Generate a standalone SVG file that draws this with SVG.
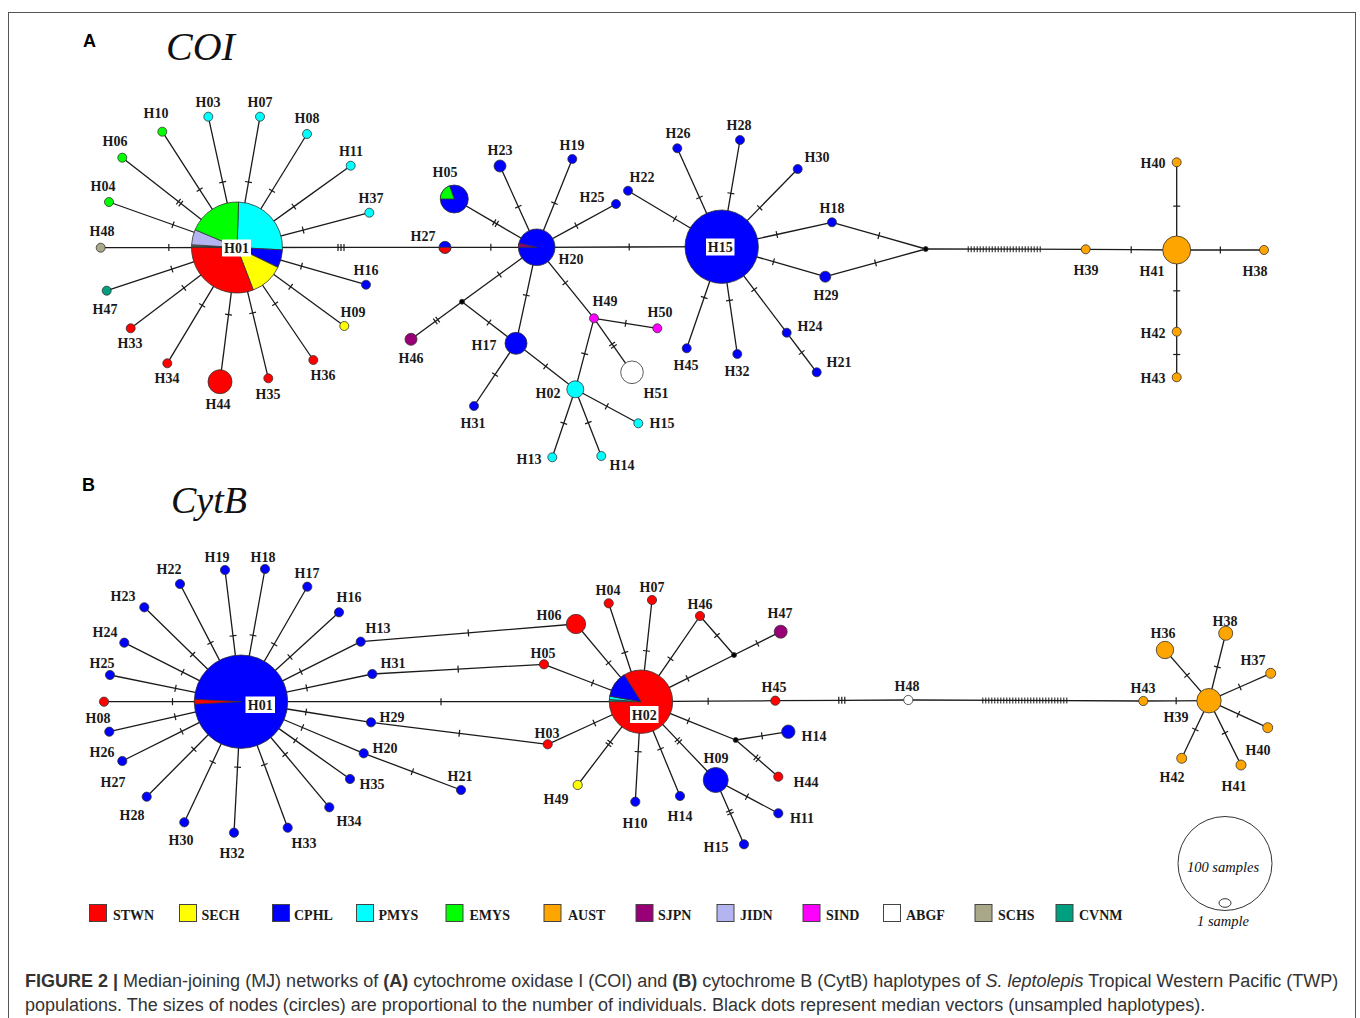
<svg xmlns="http://www.w3.org/2000/svg" width="1360" height="1018" viewBox="0 0 1360 1018">
<style>
.e{fill:none;stroke:#1a1a1a;stroke-width:1.3}
.e1{marker-mid:url(#t1)}
.e2{marker-mid:url(#t2)}
.e3{marker-mid:url(#t3)}
.run{fill:none;stroke:#1a1a1a;stroke-width:6;stroke-dasharray:1 2}
.n circle,.n path,.n ellipse{stroke:#333;stroke-width:0.8}
.l{font-family:"Liberation Serif","Times New Roman",serif;font-weight:bold;font-size:14px;fill:#1a1a1a;text-anchor:middle}
.lg{font-family:"Liberation Serif","Times New Roman",serif;font-weight:bold;font-size:14px;fill:#1a1a1a}
.sq{stroke:#444;stroke-width:1}
.box{fill:#fff;stroke:none}
.R{fill:#ff0000}.Y{fill:#ffff00}.B{fill:#0000ff}.C{fill:#00ffff}.G{fill:#00ff00}.O{fill:#ffa500}
.P{fill:#990077}.J{fill:#b4b4f0}.M{fill:#ff00ff}.W{fill:#ffffff}.T{fill:#a9a98a}.V{fill:#009f80}.K{fill:#000}
.it{font-family:"Liberation Serif","Times New Roman",serif;font-style:italic;fill:#111}
.cap{font-family:"Liberation Sans",Arial,sans-serif;font-size:18px;fill:#333}
</style>
<defs>
<marker id="t1" viewBox="0 0 10 10" markerWidth="10" markerHeight="10" refX="5" refY="5" orient="auto" markerUnits="userSpaceOnUse"><path d="M5 1.5V8.5" stroke="#1a1a1a" stroke-width="1.2"/></marker>
<marker id="t2" viewBox="0 0 10 10" markerWidth="10" markerHeight="10" refX="5" refY="5" orient="auto" markerUnits="userSpaceOnUse"><path d="M3.5 1.5V8.5M6.5 1.5V8.5" stroke="#1a1a1a" stroke-width="1.2"/></marker>
<marker id="t3" viewBox="0 0 10 10" markerWidth="10" markerHeight="10" refX="5" refY="5" orient="auto" markerUnits="userSpaceOnUse"><path d="M2 1.5V8.5M5 1.5V8.5M8 1.5V8.5" stroke="#1a1a1a" stroke-width="1.2"/></marker>
</defs>
<rect x="0" y="0" width="1360" height="1018" fill="#fff"/>
<rect x="8.5" y="12.5" width="1347" height="1030" fill="none" stroke="#555" stroke-width="1"/>

<text x="83" y="47" font-family="Liberation Sans,Arial,sans-serif" font-weight="bold" font-size="18" fill="#000">A</text>
<text class="it" x="166" y="60" font-size="40">COI</text>
<text x="82" y="491" font-family="Liberation Sans,Arial,sans-serif" font-weight="bold" font-size="18" fill="#000">B</text>
<text class="it" x="171" y="513" font-size="38">CytB</text>

<g id="edges">
<path class="e e1" d="M237 247.5L222.65 182.1L208.3 116.7"/>
<path class="e e1" d="M237 247.5L248.5 182.1L260 116.7"/>
<path class="e e1" d="M237 247.5L272 190.75L307 134"/>
<path class="e e1" d="M237 247.5L293.85 206.6L350.7 165.7"/>
<path class="e e1" d="M237 247.5L303.15 230.1L369.3 212.7"/>
<path class="e e1" d="M237 247.5L301.5 266.1L366 284.7"/>
<path class="e e1" d="M237 247.5L290.65 286.75L344.3 326"/>
<path class="e e1" d="M237 247.5L275.15 303.75L313.3 360"/>
<path class="e e1" d="M237 247.5L252.65 312.9L268.3 378.3"/>
<path class="e e1" d="M237 247.5L228.5 314.6L220 381.7"/>
<path class="e e1" d="M237 247.5L202.15 305.4L167.3 363.3"/>
<path class="e e1" d="M237 247.5L183.85 287.9L130.7 328.3"/>
<path class="e e1" d="M237 247.5L171.85 269.1L106.7 290.7"/>
<path class="e e1" d="M237 247.5L168.85 247.6L100.7 247.7"/>
<path class="e e1" d="M237 247.5L173 224.75L109 202"/>
<path class="e e2" d="M237 247.5L179.65 202.6L122.3 157.7"/>
<path class="e e1" d="M237 247.5L199.65 189.6L162.3 131.7"/>
<path class="e e3" d="M237 247.5L341 247.4L445 247.3"/>
<path class="e e1" d="M445 247.3L490.85 247.3L536.7 247.3"/>
<path class="e e2" d="M536.7 247.3L495.5 223.15L454.3 199"/>
<path class="e e1" d="M536.7 247.3L518.35 206.65L500 166"/>
<path class="e e1" d="M536.7 247.3L554.5 203.15L572.3 159"/>
<path class="e e1" d="M536.7 247.3L576.35 225.65L616 204"/>
<path class="e e1" d="M536.7 247.3L629.2 247L721.7 246.7"/>
<path class="e e1" d="M536.7 247.3L499.35 274.5L462 301.7"/>
<path class="e e2" d="M462 301.7L436.5 320.5L411 339.3"/>
<path class="e e1" d="M462 301.7L489 322.5L516 343.3"/>
<path class="e e1" d="M536.7 247.3L526.35 295.3L516 343.3"/>
<path class="e e1" d="M516 343.3L495 374.65L474 406"/>
<path class="e e1" d="M516 343.3L545.65 366.3L575.3 389.3"/>
<path class="e e1" d="M536.7 247.3L565.35 282.8L594 318.3"/>
<path class="e e1" d="M594 318.3L625.65 323.3L657.3 328.3"/>
<path class="e e2" d="M594 318.3L613 345.3L632 372.3"/>
<path class="e e1" d="M594 318.3L584.65 353.8L575.3 389.3"/>
<path class="e e1" d="M575.3 389.3L606.8 406.3L638.3 423.3"/>
<path class="e e1" d="M575.3 389.3L563.8 423.3L552.3 457.3"/>
<path class="e e1" d="M575.3 389.3L588.3 422.65L601.3 456"/>
<path class="e e1" d="M628 190.7L674.85 218.7L721.7 246.7"/>
<path class="e e1" d="M721.7 246.7L699.5 197.5L677.3 148.3"/>
<path class="e e1" d="M721.7 246.7L730.85 193.35L740 140"/>
<path class="e e1" d="M721.7 246.7L759.7 207.85L797.7 169"/>
<path class="e e1" d="M721.7 246.7L776.85 234.5L832 222.3"/>
<path class="e e1" d="M832 222.3L878.85 235.65L925.7 249"/>
<path class="e e1" d="M721.7 246.7L773.5 261.7L825.3 276.7"/>
<path class="e e1" d="M825.3 276.7L875.5 262.85L925.7 249"/>
<path class="e e1" d="M721.7 246.7L704.2 297.5L686.7 348.3"/>
<path class="e e1" d="M721.7 246.7L729.5 300.35L737.3 354"/>
<path class="e e1" d="M721.7 246.7L754.2 289.7L786.7 332.7"/>
<path class="e e1" d="M786.7 332.7L801.7 352.5L816.7 372.3"/>
<path class="e" d="M925.7 249L1085.7 249.3"/>
<path class="run" d="M967.7 249.15H1042.7"/>
<path class="e e1" d="M1085.7 249.3L1131.2 249.65L1176.7 250"/>
<path class="e e1" d="M1176.7 250L1220.35 250L1264 250"/>
<path class="e e1" d="M1176.7 250L1176.7 206.15L1176.7 162.3"/>
<path class="e e1" d="M1176.7 250L1176.7 290.85L1176.7 331.7"/>
<path class="e e1" d="M1176.7 331.7L1176.7 354.5L1176.7 377.3"/>
<path class="e e1" d="M241 701.7L233 635.85L225 570"/>
<path class="e e1" d="M241 701.7L253 635.35L265 569"/>
<path class="e e1" d="M241 701.7L274.15 644.2L307.3 586.7"/>
<path class="e e1" d="M241 701.7L290 657L339 612.3"/>
<path class="e e1" d="M241 701.7L300.85 671.7L360.7 641.7"/>
<path class="e e1" d="M241 701.7L306.65 687.85L372.3 674"/>
<path class="e e1" d="M241 701.7L306 712L371 722.3"/>
<path class="e e1" d="M241 701.7L302.35 727.5L363.7 753.3"/>
<path class="e e1" d="M241 701.7L295.5 740.35L350 779"/>
<path class="e e1" d="M241 701.7L285.15 754.5L329.3 807.3"/>
<path class="e e1" d="M241 701.7L264.35 764.7L287.7 827.7"/>
<path class="e e1" d="M241 701.7L237.5 767.2L234 832.7"/>
<path class="e e1" d="M241 701.7L212.65 762L184.3 822.3"/>
<path class="e e1" d="M241 701.7L193.85 749.2L146.7 796.7"/>
<path class="e e1" d="M241 701.7L181.65 731.35L122.3 761"/>
<path class="e e1" d="M241 701.7L175.15 716.7L109.3 731.7"/>
<path class="e e1" d="M241 701.7L172.5 701.7L104 701.7"/>
<path class="e e1" d="M241 701.7L175.5 688.35L110 675"/>
<path class="e e1" d="M241 701.7L182.65 672.2L124.3 642.7"/>
<path class="e e1" d="M241 701.7L192.65 654.5L144.3 607.3"/>
<path class="e e1" d="M241 701.7L210.5 642.85L180 584"/>
<path class="e e1" d="M363.7 753.3L412.35 771.65L461 790"/>
<path class="e e1" d="M360.7 641.7L468.35 632.85L576 624"/>
<path class="e e1" d="M372.3 674L458.15 669.15L544 664.3"/>
<path class="e e1" d="M241 701.7L441 701.7L641 701.7"/>
<path class="e e1" d="M371 722.3L459.35 733.3L547.7 744.3"/>
<path class="e e1" d="M641 701.7L608.5 662.85L576 624"/>
<path class="e e1" d="M641 701.7L624.85 652.5L608.7 603.3"/>
<path class="e e1" d="M641 701.7L646.5 650.85L652 600"/>
<path class="e e1" d="M641 701.7L670.5 658.85L700 616"/>
<path class="e e1" d="M641 701.7L687.5 678.35L734 655"/>
<path class="e e1" d="M734 655L717 635.5L700 616"/>
<path class="e e1" d="M734 655L757.35 643.35L780.7 631.7"/>
<path class="e e1" d="M641 701.7L592.5 683L544 664.3"/>
<path class="e e1" d="M641 701.7L708.15 701.2L775.3 700.7"/>
<path class="e e3" d="M775.3 700.7L841.8 700.35L908.3 700"/>
<path class="e" d="M908.3 700L1143.3 701"/>
<path class="run" d="M982.3 700.5H1067.3"/>
<path class="e e1" d="M641 701.7L594.35 723L547.7 744.3"/>
<path class="e e2" d="M641 701.7L609.35 743.35L577.7 785"/>
<path class="e e1" d="M641 701.7L638.15 751.7L635.3 801.7"/>
<path class="e e1" d="M641 701.7L660.5 748.85L680 796"/>
<path class="e e2" d="M641 701.7L678.35 740.85L715.7 780"/>
<path class="e e1" d="M715.7 780L747 796.65L778.3 813.3"/>
<path class="e e2" d="M715.7 780L729.85 812.15L744 844.3"/>
<path class="e e1" d="M641 701.7L688.35 720.85L735.7 740"/>
<path class="e e1" d="M735.7 740L762 735.85L788.3 731.7"/>
<path class="e e2" d="M735.7 740L757 758.35L778.3 776.7"/>
<path class="e e1" d="M1143.3 701L1176.15 700.85L1209 700.7"/>
<path class="e e1" d="M1209 700.7L1187 675.35L1165 650"/>
<path class="e e1" d="M1209 700.7L1217.35 667L1225.7 633.3"/>
<path class="e e1" d="M1209 700.7L1239.85 687L1270.7 673.3"/>
<path class="e e1" d="M1209 700.7L1238.35 714.2L1267.7 727.7"/>
<path class="e e1" d="M1209 700.7L1225 732.85L1241 765"/>
<path class="e e1" d="M1209 700.7L1195.35 729.5L1181.7 758.3"/>
</g>

<g id="coi-H01" class="n">
<path class="C" d="M237 247.5L238.59 202.03A45.5 45.5 0 0 1 282.44 249.88Z"/>
<path class="B" d="M237 247.5L282.44 249.88A45.5 45.5 0 0 1 277.9 267.45Z"/>
<path class="Y" d="M237 247.5L277.9 267.45A45.5 45.5 0 0 1 253.31 289.98Z"/>
<path class="R" d="M237 247.5L253.31 289.98A45.5 45.5 0 0 1 191.5 247.1Z"/>
<path class="V" d="M237 247.5L191.5 247.1A45.5 45.5 0 0 1 191.53 245.91Z"/>
<path class="T" d="M237 247.5L191.53 245.91A45.5 45.5 0 0 1 191.58 244.72Z"/>
<path class="J" d="M237 247.5L191.58 244.72A45.5 45.5 0 0 1 195.12 229.72Z"/>
<path class="G" d="M237 247.5L195.12 229.72A45.5 45.5 0 0 1 238.59 202.03Z"/>
<rect class="box" x="222" y="239.5" width="29" height="17"/>
<text class="l" x="236.5" y="253">H01</text>
</g>
<g id="coi-H03" class="n"><circle class="C" cx="208.3" cy="116.7" r="4.5"/><text class="l" x="208" y="107">H03</text></g>
<g id="coi-H07" class="n"><circle class="C" cx="260" cy="116.7" r="4.5"/><text class="l" x="260" y="107">H07</text></g>
<g id="coi-H08" class="n"><circle class="C" cx="307" cy="134" r="4.5"/><text class="l" x="307" y="123">H08</text></g>
<g id="coi-H11" class="n"><circle class="C" cx="350.7" cy="165.7" r="4.5"/><text class="l" x="351" y="156">H11</text></g>
<g id="coi-H37" class="n"><circle class="C" cx="369.3" cy="212.7" r="4.5"/><text class="l" x="371" y="203">H37</text></g>
<g id="coi-H16" class="n"><circle class="B" cx="366" cy="284.7" r="4.5"/><text class="l" x="366" y="275">H16</text></g>
<g id="coi-H09" class="n"><circle class="Y" cx="344.3" cy="326" r="4.5"/><text class="l" x="353" y="317">H09</text></g>
<g id="coi-H36" class="n"><circle class="R" cx="313.3" cy="360" r="4.5"/><text class="l" x="323" y="380">H36</text></g>
<g id="coi-H35" class="n"><circle class="R" cx="268.3" cy="378.3" r="4.5"/><text class="l" x="268" y="399">H35</text></g>
<g id="coi-H44" class="n"><circle class="R" cx="220" cy="381.7" r="12"/><text class="l" x="218" y="409">H44</text></g>
<g id="coi-H34" class="n"><circle class="R" cx="167.3" cy="363.3" r="4.5"/><text class="l" x="167" y="383">H34</text></g>
<g id="coi-H33" class="n"><circle class="R" cx="130.7" cy="328.3" r="4.5"/><text class="l" x="130" y="348">H33</text></g>
<g id="coi-H47" class="n"><circle class="V" cx="106.7" cy="290.7" r="4.5"/><text class="l" x="105" y="314">H47</text></g>
<g id="coi-H48" class="n"><circle class="T" cx="100.7" cy="247.7" r="4.5"/><text class="l" x="102" y="236">H48</text></g>
<g id="coi-H04" class="n"><circle class="G" cx="109" cy="202" r="4.5"/><text class="l" x="103" y="191">H04</text></g>
<g id="coi-H06" class="n"><circle class="G" cx="122.3" cy="157.7" r="4.5"/><text class="l" x="115" y="146">H06</text></g>
<g id="coi-H10" class="n"><circle class="G" cx="162.3" cy="131.7" r="4.5"/><text class="l" x="156" y="118">H10</text></g>
<g id="coi-H27" class="n"><circle class="B" cx="445" cy="247.3" r="6"/><path class="R" d="M451 247.3A6 6 0 0 1 439 247.3Z"/><text class="l" x="423" y="241">H27</text></g>
<g id="coi-H20" class="n"><circle class="B" cx="536.7" cy="247.3" r="18.3"/><path class="P" d="M536.7 247.3L518.4 247.3A18.3 18.3 0 0 1 518.87 243.18Z"/><text class="l" x="571" y="264">H20</text></g>
<g id="coi-H05" class="n"><circle class="B" cx="454.3" cy="199" r="14"/><path class="G" d="M454.3 199L440.3 199A14 14 0 0 1 449.51 185.84Z"/><text class="l" x="445" y="177">H05</text></g>
<g id="coi-H23" class="n"><circle class="B" cx="500" cy="166" r="6"/><text class="l" x="500" y="155">H23</text></g>
<g id="coi-H19" class="n"><circle class="B" cx="572.3" cy="159" r="4.5"/><text class="l" x="572" y="150">H19</text></g>
<g id="coi-H25" class="n"><circle class="B" cx="616" cy="204" r="4.5"/><text class="l" x="592" y="202">H25</text></g>
<g id="coi-H22" class="n"><circle class="B" cx="628" cy="190.7" r="4.5"/><text class="l" x="642" y="182">H22</text></g>
<g id="coi-mv1" class="n"><circle class="K" cx="462" cy="301.7" r="2.5"/></g>
<g id="coi-H46" class="n"><circle class="P" cx="411" cy="339.3" r="6"/><text class="l" x="411" y="363">H46</text></g>
<g id="coi-H17" class="n"><circle class="B" cx="516" cy="343.3" r="11"/><text class="l" x="484" y="350">H17</text></g>
<g id="coi-H31" class="n"><circle class="B" cx="474" cy="406" r="4.5"/><text class="l" x="473" y="428">H31</text></g>
<g id="coi-H02" class="n"><circle class="C" cx="575.3" cy="389.3" r="8.5"/><text class="l" x="548" y="398">H02</text></g>
<g id="coi-H49" class="n"><circle class="M" cx="594" cy="318.3" r="4.5"/><text class="l" x="605" y="306">H49</text></g>
<g id="coi-H50" class="n"><circle class="M" cx="657.3" cy="328.3" r="4.5"/><text class="l" x="660" y="317">H50</text></g>
<g id="coi-H51" class="n"><circle class="W" cx="632" cy="372.3" r="11.3"/><text class="l" x="656" y="398">H51</text></g>
<g id="coi-H15s" class="n"><circle class="C" cx="638.3" cy="423.3" r="4.5"/><text class="l" x="662" y="428">H15</text></g>
<g id="coi-H13" class="n"><circle class="C" cx="552.3" cy="457.3" r="4.5"/><text class="l" x="529" y="464">H13</text></g>
<g id="coi-H14" class="n"><circle class="C" cx="601.3" cy="456" r="4.5"/><text class="l" x="622" y="470">H14</text></g>
<g id="coi-H15" class="n"><circle class="B" cx="721.7" cy="246.7" r="36.7"/><rect class="box" x="706" y="238.5" width="28.5" height="17"/><text class="l" x="720.2" y="252">H15</text></g>
<g id="coi-H26" class="n"><circle class="B" cx="677.3" cy="148.3" r="4.5"/><text class="l" x="678" y="138">H26</text></g>
<g id="coi-H28" class="n"><circle class="B" cx="740" cy="140" r="4.5"/><text class="l" x="739" y="130">H28</text></g>
<g id="coi-H30" class="n"><circle class="B" cx="797.7" cy="169" r="4.5"/><text class="l" x="817" y="162">H30</text></g>
<g id="coi-H18" class="n"><circle class="B" cx="832" cy="222.3" r="4.5"/><text class="l" x="832" y="213">H18</text></g>
<g id="coi-H29" class="n"><circle class="B" cx="825.3" cy="276.7" r="5.5"/><text class="l" x="826" y="300">H29</text></g>
<g id="coi-H45" class="n"><circle class="B" cx="686.7" cy="348.3" r="4.5"/><text class="l" x="686" y="370">H45</text></g>
<g id="coi-H32" class="n"><circle class="B" cx="737.3" cy="354" r="4.5"/><text class="l" x="737" y="376">H32</text></g>
<g id="coi-H24" class="n"><circle class="B" cx="786.7" cy="332.7" r="4.5"/><text class="l" x="810" y="331">H24</text></g>
<g id="coi-H21" class="n"><circle class="B" cx="816.7" cy="372.3" r="4.5"/><text class="l" x="839" y="367">H21</text></g>
<g id="coi-mv2" class="n"><circle class="K" cx="925.7" cy="249" r="2.5"/></g>
<g id="coi-H39" class="n"><circle class="O" cx="1085.7" cy="249.3" r="4.5"/><text class="l" x="1086" y="275">H39</text></g>
<g id="coi-H41" class="n"><circle class="O" cx="1176.7" cy="250" r="14"/><text class="l" x="1152" y="276">H41</text></g>
<g id="coi-H38" class="n"><circle class="O" cx="1264" cy="250" r="4.5"/><text class="l" x="1255" y="276">H38</text></g>
<g id="coi-H40" class="n"><circle class="O" cx="1176.7" cy="162.3" r="4.5"/><text class="l" x="1153" y="168">H40</text></g>
<g id="coi-H42" class="n"><circle class="O" cx="1176.7" cy="331.7" r="4.5"/><text class="l" x="1153" y="338">H42</text></g>
<g id="coi-H43" class="n"><circle class="O" cx="1176.7" cy="377.3" r="4.5"/><text class="l" x="1153" y="383">H43</text></g>

<g id="cytb-H01" class="n">
<circle class="B" cx="241" cy="701.7" r="46.7"/>
<path class="R" d="M241 701.7L194.36 704.14A46.7 46.7 0 0 1 194.36 699.26Z"/>
<rect class="box" x="245.5" y="696.5" width="29.5" height="16.5"/>
<text class="l" x="260.3" y="710">H01</text>
</g>
<g id="cytb-H19" class="n"><circle class="B" cx="225" cy="570" r="4.6"/><text class="l" x="217" y="562">H19</text></g>
<g id="cytb-H18" class="n"><circle class="B" cx="265" cy="569" r="4.6"/><text class="l" x="263" y="562">H18</text></g>
<g id="cytb-H17" class="n"><circle class="B" cx="307.3" cy="586.7" r="4.6"/><text class="l" x="307" y="578">H17</text></g>
<g id="cytb-H16" class="n"><circle class="B" cx="339" cy="612.3" r="4.6"/><text class="l" x="349" y="602">H16</text></g>
<g id="cytb-H13" class="n"><circle class="B" cx="360.7" cy="641.7" r="4.6"/><text class="l" x="378" y="633">H13</text></g>
<g id="cytb-H31" class="n"><circle class="B" cx="372.3" cy="674" r="4.6"/><text class="l" x="393" y="668">H31</text></g>
<g id="cytb-H29" class="n"><circle class="B" cx="371" cy="722.3" r="4.6"/><text class="l" x="392" y="722">H29</text></g>
<g id="cytb-H20" class="n"><circle class="B" cx="363.7" cy="753.3" r="4.6"/><text class="l" x="385" y="753">H20</text></g>
<g id="cytb-H21" class="n"><circle class="B" cx="461" cy="790" r="4.6"/><text class="l" x="460" y="781">H21</text></g>
<g id="cytb-H35" class="n"><circle class="B" cx="350" cy="779" r="4.6"/><text class="l" x="372" y="789">H35</text></g>
<g id="cytb-H34" class="n"><circle class="B" cx="329.3" cy="807.3" r="4.6"/><text class="l" x="349" y="826">H34</text></g>
<g id="cytb-H33" class="n"><circle class="B" cx="287.7" cy="827.7" r="4.6"/><text class="l" x="304" y="848">H33</text></g>
<g id="cytb-H32" class="n"><circle class="B" cx="234" cy="832.7" r="4.6"/><text class="l" x="232" y="858">H32</text></g>
<g id="cytb-H30" class="n"><circle class="B" cx="184.3" cy="822.3" r="4.6"/><text class="l" x="181" y="845">H30</text></g>
<g id="cytb-H28" class="n"><circle class="B" cx="146.7" cy="796.7" r="4.6"/><text class="l" x="132" y="820">H28</text></g>
<g id="cytb-H27" class="n"><circle class="B" cx="122.3" cy="761" r="4.6"/><text class="l" x="113" y="787">H27</text></g>
<g id="cytb-H26" class="n"><circle class="B" cx="109.3" cy="731.7" r="4.6"/><text class="l" x="102" y="757">H26</text></g>
<g id="cytb-H08" class="n"><circle class="R" cx="104" cy="701.7" r="4.6"/><text class="l" x="98" y="723">H08</text></g>
<g id="cytb-H25" class="n"><circle class="B" cx="110" cy="675" r="4.6"/><text class="l" x="102" y="668">H25</text></g>
<g id="cytb-H24" class="n"><circle class="B" cx="124.3" cy="642.7" r="4.6"/><text class="l" x="105" y="637">H24</text></g>
<g id="cytb-H23" class="n"><circle class="B" cx="144.3" cy="607.3" r="4.6"/><text class="l" x="123" y="601">H23</text></g>
<g id="cytb-H22" class="n"><circle class="B" cx="180" cy="584" r="4.6"/><text class="l" x="169" y="574">H22</text></g>
<g id="cytb-H02" class="n">
<circle class="R" cx="641" cy="701.7" r="31.7"/>
<path class="V" d="M641 701.7L609.3 701.7A31.7 31.7 0 0 1 609.38 699.49Z"/>
<path class="C" d="M641 701.7L609.38 699.49A31.7 31.7 0 0 1 609.78 696.2Z"/>
<path class="B" d="M641 701.7L609.78 696.2A31.7 31.7 0 0 1 624.2 674.82Z"/>
<rect class="box" x="630" y="706" width="28.5" height="17"/>
<text class="l" x="644.2" y="719.5">H02</text>
</g>
<g id="cytb-H06" class="n"><circle class="R" cx="576" cy="624" r="9.7"/><text class="l" x="549" y="620">H06</text></g>
<g id="cytb-H04" class="n"><circle class="R" cx="608.7" cy="603.3" r="4.6"/><text class="l" x="608" y="595">H04</text></g>
<g id="cytb-H07" class="n"><circle class="R" cx="652" cy="600" r="4.6"/><text class="l" x="652" y="592">H07</text></g>
<g id="cytb-H46" class="n"><circle class="R" cx="700" cy="616" r="4.6"/><text class="l" x="700" y="609">H46</text></g>
<g id="cytb-mv3" class="n"><circle class="K" cx="734" cy="655" r="2.5"/></g>
<g id="cytb-H47" class="n"><circle class="P" cx="780.7" cy="631.7" r="6.5"/><text class="l" x="780" y="618">H47</text></g>
<g id="cytb-H05" class="n"><circle class="R" cx="544" cy="664.3" r="4.6"/><text class="l" x="543" y="658">H05</text></g>
<g id="cytb-H45" class="n"><circle class="R" cx="775.3" cy="700.7" r="4.6"/><text class="l" x="774" y="692">H45</text></g>
<g id="cytb-H03" class="n"><circle class="R" cx="547.7" cy="744.3" r="4.6"/><text class="l" x="547" y="738">H03</text></g>
<g id="cytb-H49" class="n"><circle class="Y" cx="577.7" cy="785" r="4.6"/><text class="l" x="556" y="804">H49</text></g>
<g id="cytb-H10" class="n"><circle class="B" cx="635.3" cy="801.7" r="4.6"/><text class="l" x="635" y="828">H10</text></g>
<g id="cytb-H14b" class="n"><circle class="B" cx="680" cy="796" r="4.6"/><text class="l" x="680" y="821">H14</text></g>
<g id="cytb-H09" class="n"><circle class="B" cx="715.7" cy="780" r="12.5"/><text class="l" x="716" y="763">H09</text></g>
<g id="cytb-H11" class="n"><circle class="B" cx="778.3" cy="813.3" r="4.6"/><text class="l" x="802" y="823">H11</text></g>
<g id="cytb-H15" class="n"><circle class="B" cx="744" cy="844.3" r="4.6"/><text class="l" x="716" y="852">H15</text></g>
<g id="cytb-mv4" class="n"><circle class="K" cx="735.7" cy="740" r="2.5"/></g>
<g id="cytb-H14" class="n"><circle class="B" cx="788.3" cy="731.7" r="6.7"/><text class="l" x="814" y="741">H14</text></g>
<g id="cytb-H44" class="n"><circle class="R" cx="778.3" cy="776.7" r="4.6"/><text class="l" x="806" y="787">H44</text></g>
<g id="cytb-H48" class="n"><circle class="W" cx="908.3" cy="700" r="4.6"/><text class="l" x="907" y="691">H48</text></g>
<g id="cytb-H43" class="n"><circle class="O" cx="1143.3" cy="701" r="4.6"/><text class="l" x="1143" y="693">H43</text></g>
<g id="cytb-H39" class="n"><circle class="O" cx="1209" cy="700.7" r="12.2"/><text class="l" x="1176" y="722">H39</text></g>
<g id="cytb-H36" class="n"><circle class="O" cx="1165" cy="650" r="8.7"/><text class="l" x="1163" y="638">H36</text></g>
<g id="cytb-H38" class="n"><circle class="O" cx="1225.7" cy="633.3" r="7"/><text class="l" x="1225" y="626">H38</text></g>
<g id="cytb-H37" class="n"><circle class="O" cx="1270.7" cy="673.3" r="5"/><text class="l" x="1253" y="665">H37</text></g>
<g id="cytb-H40" class="n"><circle class="O" cx="1267.7" cy="727.7" r="5"/><text class="l" x="1258" y="755">H40</text></g>
<g id="cytb-H41" class="n"><circle class="O" cx="1241" cy="765" r="5"/><text class="l" x="1234" y="791">H41</text></g>
<g id="cytb-H42" class="n"><circle class="O" cx="1181.7" cy="758.3" r="5"/><text class="l" x="1172" y="782">H42</text></g>

<g id="scale">
<circle cx="1225" cy="863.5" r="47" fill="none" stroke="#333" stroke-width="1"/>
<ellipse cx="1225" cy="903" rx="6" ry="4.3" fill="#fff" stroke="#333" stroke-width="1"/>
<text class="it" x="1223" y="872" font-size="14.5" text-anchor="middle">100 samples</text>
<text class="it" x="1223" y="926" font-size="14.5" text-anchor="middle">1 sample</text>
</g>

<g id="legend">
<rect class="sq R" x="89.5" y="904.5" width="17" height="17"/><text class="lg" x="113" y="920">STWN</text>
<rect class="sq Y" x="179.5" y="904.5" width="17" height="17"/><text class="lg" x="201.5" y="920">SECH</text>
<rect class="sq B" x="272.5" y="904.5" width="17" height="17"/><text class="lg" x="294" y="920">CPHL</text>
<rect class="sq C" x="356.5" y="904.5" width="17" height="17"/><text class="lg" x="378.5" y="920">PMYS</text>
<rect class="sq G" x="446" y="904.5" width="17" height="17"/><text class="lg" x="469.5" y="920">EMYS</text>
<rect class="sq O" x="544" y="904.5" width="17" height="17"/><text class="lg" x="568" y="920">AUST</text>
<rect class="sq P" x="636" y="904.5" width="17" height="17"/><text class="lg" x="658" y="920">SJPN</text>
<rect class="sq J" x="717" y="904.5" width="17" height="17"/><text class="lg" x="740" y="920">JIDN</text>
<rect class="sq M" x="803" y="904.5" width="17" height="17"/><text class="lg" x="826" y="920">SIND</text>
<rect class="sq W" x="883.5" y="904.5" width="17" height="17"/><text class="lg" x="906" y="920">ABGF</text>
<rect class="sq T" x="975" y="904.5" width="17" height="17"/><text class="lg" x="998" y="920">SCHS</text>
<rect class="sq V" x="1056" y="904.5" width="17" height="17"/><text class="lg" x="1079" y="920">CVNM</text>
</g>

<text class="cap" x="25" y="987"><tspan font-weight="bold">FIGURE 2 |</tspan> Median-joining (MJ) networks of <tspan font-weight="bold">(A)</tspan> cytochrome oxidase I (COI) and <tspan font-weight="bold">(B)</tspan> cytochrome B (CytB) haplotypes of <tspan font-style="italic">S. leptolepis</tspan> Tropical Western Pacific (TWP)</text>
<text class="cap" x="25" y="1011">populations. The sizes of nodes (circles) are proportional to the number of individuals. Black dots represent median vectors (unsampled haplotypes).</text>
</svg>
